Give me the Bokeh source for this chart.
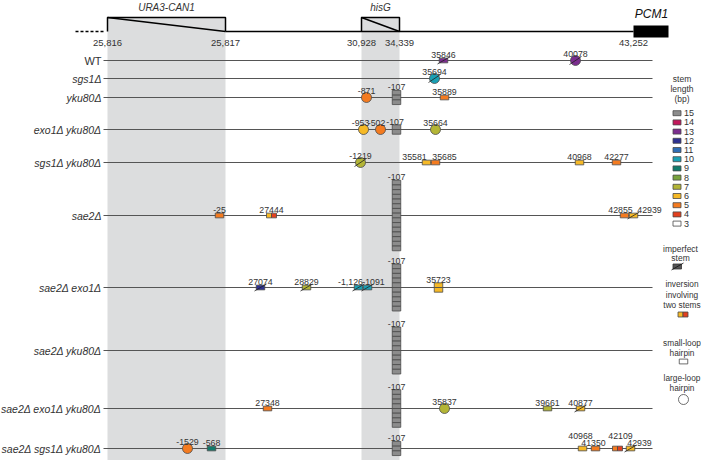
from bokeh.plotting import figure
from bokeh.models import Range1d, ColumnDataSource
from bokeh.core.properties import value
from bokeh.embed import file_html
from bokeh.resources import INLINE

# ---------------- data ----------------
ROWS = ["WT", "sgs1Δ", "yku80Δ", "exo1Δ yku80Δ", "sgs1Δ yku80Δ", "sae2Δ",
        "sae2Δ exo1Δ", "sae2Δ yku80Δ", "sae2Δ exo1Δ yku80Δ", "sae2Δ sgs1Δ yku80Δ"]

# genomic landmarks (schematic position along the locus drawing)
BOUNDARY_LABELS = ["25,816", "25,817", "30,928", "34,339", "43,252"]
BOUNDARY_POS = [107, 225, 361, 399, 633]
GENES = ["URA3-CAN1", "hisG", "PCM1"]

STEM_LENGTHS = [15, 14, 13, 12, 11, 10, 9, 8, 7, 6, 5, 4, 3]
STEM_COLORS = ["#8c8c8c", "#c2185b", "#7b2d8e", "#2e3192", "#2f6db5", "#1aa0b4",
               "#127a6b", "#78a23c", "#b3b536", "#f6b926", "#f47b20", "#e2401f", "#ffffff"]

# events: row index, schematic position, label, stem length, second stem (inversion),
# shape, imperfect stem, number of stacked copies
EV_ROW = [0, 0, 1, 2, 2, 2, 3, 3, 3, 3, 4, 4, 4, 4, 4, 5, 5, 5, 5, 5,
          6, 6, 6, 6, 6, 6, 7, 8, 8, 8, 8, 8, 9, 9, 9, 9, 9, 9, 9]
EV_POS = [443, 575, 434, 366, 396, 444, 363, 380, 396, 435, 360, 426, 435, 579, 616,
          219, 271, 396, 624, 633, 260, 306, 358, 367, 396, 438, 396,
          267, 396, 444, 547, 580, 187, 211, 396, 582, 595, 617, 630]
EV_LABEL = ["35846", "40078", "35694", "-871", "-107", "35889", "-953", "-502", "-107", "35664",
            "-1219", "35581", "35685", "40968", "42277", "-25", "27444", "-107", "42855", "42939",
            "27074", "28829", "-1,126", "-1091", "-107", "35723", "-107",
            "27348", "-107", "35837", "39661", "40877", "-1529", "-568", "-107",
            "40968", "41350", "42109", "42939"]
EV_STEM = [13, 13, 10, 5, 15, 5, 6, 5, 15, 7, 7, 6, 5, 6, 5, 5, 6, 15, 5, 6,
           12, 7, 10, 10, 15, 6, 15, 5, 15, 7, 7, 6, 5, 9, 15, 6, 5, 5, 6]
EV_STEM2 = [None] * 16 + [4] + [None] * 20 + [4] + [None]
EV_SHAPE = ["rect", "circle", "circle", "circle", "rect", "rect", "circle", "circle", "rect", "circle",
            "circle", "rect", "rect", "rect", "rect", "rect", "inv", "rect", "rect", "rect",
            "rect", "rect", "rect", "rect", "rect", "rect", "rect",
            "rect", "rect", "circle", "rect", "rect", "circle", "rect", "rect",
            "rect", "rect", "inv", "rect"]
EV_IMPERFECT = [True, True, True, False, False, False, False, False, False, False,
                True, False, False, False, False, False, False, False, False, True,
                True, True, True, True, False, False, False,
                False, False, False, False, True, False, False, False,
                False, False, False, True]
EV_COUNT = [1, 1, 1, 1, 3, 1, 1, 1, 2, 1, 1, 1, 1, 1, 1, 1, 1, 15, 1, 1,
            1, 1, 1, 1, 10, 2, 10, 1, 8, 1, 1, 1, 1, 1, 3, 1, 1, 1, 1]

# ---------------- layout (positions / styles) ----------------
ROW_Y = [60, 78, 97, 129, 162, 215, 287, 350, 408, 448]
LABEL_DX = {6: -3, 7: -4, 8: -1.5, 11: -12, 12: 9, 18: -4, 19: 16, 22: -8, 23: 6,
            35: -2, 36: -2, 37: 3, 38: 9}
LABEL_LIFT = {35: 7, 37: 7}
CELL_H = 4.7
RECT_W = 8.5
FONT = value("Liberation Sans")
TXT = "#333333"

color_of = dict(zip(STEM_LENGTHS, STEM_COLORS))

p = figure(width=701, height=460, x_range=Range1d(0, 701), y_range=Range1d(460, 0),
           output_backend="svg", toolbar_location=None, min_border=0)
p.axis.visible = False
p.grid.visible = False
p.outline_line_color = None
p.background_fill_color = "white"

# shaded bands under the two inserted cassettes
band_l = [BOUNDARY_POS[0], BOUNDARY_POS[2]]
band_r = [BOUNDARY_POS[1], BOUNDARY_POS[3]]
p.quad(left=band_l, right=band_r, top=[17, 17], bottom=[470, 470],
       fill_color="#dcddde", line_color=None)

# locus drawing
p.line([75, 105], [31, 31], line_color="black", line_width=1.5, line_dash="3 2")
for a, b in [(0, 1), (2, 3)]:
    xa, xb = BOUNDARY_POS[a], BOUNDARY_POS[b]
    p.line([xa, xa, xb, xb], [31, 17, 17, 31], line_color="black", line_width=1.5)
    p.line([xa, xb], [17, 31], line_color="black", line_width=1.5)
p.line([BOUNDARY_POS[1], BOUNDARY_POS[4]], [31, 31], line_color="black", line_width=1.5)
p.quad(left=[BOUNDARY_POS[4]], right=[BOUNDARY_POS[4] + 35], top=[25], bottom=[37],
       fill_color="black", line_color=None)
p.text(x=BOUNDARY_POS, y=[42] * 5, text=BOUNDARY_LABELS, text_align="center",
       text_baseline="middle", text_font=FONT, text_font_size="9.5px", text_color=TXT)
gene_x = [(BOUNDARY_POS[0] + BOUNDARY_POS[1]) / 2, (BOUNDARY_POS[2] + BOUNDARY_POS[3]) / 2,
          BOUNDARY_POS[4] + 18]
p.text(x=gene_x[:2], y=[7, 7], text=GENES[:2], text_align="center", text_baseline="middle",
       text_font=FONT, text_font_style="italic", text_font_size="10px", text_color=TXT)
p.text(x=[gene_x[2]], y=[13], text=[GENES[2]], text_align="center", text_baseline="middle",
       text_font=FONT, text_font_style="italic", text_font_size="12px", text_color="#111")

# strain rows
p.segment(x0=[103] * len(ROWS), y0=ROW_Y, x1=[652] * len(ROWS), y1=ROW_Y,
          line_color="#555555", line_width=1)
p.text(x=[101], y=ROW_Y[:1], text=ROWS[:1], text_align="right", text_baseline="middle",
       text_font=FONT, text_font_size="11px", text_color=TXT)
p.text(x=[101] * (len(ROWS) - 1), y=ROW_Y[1:], text=ROWS[1:], text_align="right",
       text_baseline="middle", text_font=FONT, text_font_size="10.5px", text_color=TXT,
       text_font_style="italic")

# events
cells = dict(left=[], right=[], top=[], bottom=[], color=[])
circ = dict(x=[], y=[], color=[])
slash = dict(x0=[], y0=[], x1=[], y1=[])
lab = dict(x=[], y=[], text=[])
for i in range(len(EV_ROW)):
    y = ROW_Y[EV_ROW[i]]
    x = EV_POS[i]
    n = EV_COUNT[i]
    if EV_SHAPE[i] == "circle":
        circ["x"].append(x); circ["y"].append(y); circ["color"].append(color_of[EV_STEM[i]])
        top = y - 3.5
        if EV_IMPERFECT[i]:
            slash["x0"].append(x - 6); slash["y0"].append(y + 4)
            slash["x1"].append(x + 6); slash["y1"].append(y - 4)
    elif EV_SHAPE[i] == "inv":
        for k, s in enumerate([EV_STEM[i], EV_STEM2[i]]):
            cells["left"].append(x - 5 + 5 * k); cells["right"].append(x + 5 * k)
            cells["top"].append(y - CELL_H / 2); cells["bottom"].append(y + CELL_H / 2)
            cells["color"].append(color_of[s])
        top = y - CELL_H / 2
    else:
        h = CELL_H
        y0 = y - n * h / 2
        for k in range(n):
            cells["left"].append(x - RECT_W / 2); cells["right"].append(x + RECT_W / 2)
            cells["top"].append(y0 + k * h); cells["bottom"].append(y0 + (k + 1) * h)
            cells["color"].append(color_of[EV_STEM[i]])
        top = y0
        if EV_IMPERFECT[i]:
            slash["x0"].append(x - 6); slash["y0"].append(y + 3.5)
            slash["x1"].append(x + 6); slash["y1"].append(y - 3.5)
    lab["x"].append(x + LABEL_DX.get(i, 0))
    lab["y"].append(top - 3 - LABEL_LIFT.get(i, 0))
    lab["text"].append(EV_LABEL[i])

p.quad(left="left", right="right", top="top", bottom="bottom", fill_color="color",
       line_color="#4a4a4a", line_width=0.8, source=ColumnDataSource(cells))
p.scatter(x="x", y="y", marker="circle", size=10, fill_color="color",
          line_color="#4a4a4a", line_width=0.8, source=ColumnDataSource(circ))
p.segment(x0="x0", y0="y0", x1="x1", y1="y1", line_color="#222222", line_width=0.8,
          source=ColumnDataSource(slash))
p.text(x="x", y="y", text="text", text_align="center", text_baseline="alphabetic",
       text_font=FONT, text_font_size="8.8px", text_color=TXT, source=ColumnDataSource(lab))

# legend
LX = 681.5
p.text(x=[LX] * 3, y=[78, 88, 98], text=["stem", "length", "(bp)"], text_align="center",
       text_baseline="middle", text_font=FONT, text_font_size="8.5px", text_color=TXT)
ly = [112.7 + 9.2 * k for k in range(len(STEM_LENGTHS))]
p.quad(left=[672.5] * len(ly), right=[680.5] * len(ly), top=[v - 2.5 for v in ly],
       bottom=[v + 2.5 for v in ly], fill_color=STEM_COLORS, line_color="#4a4a4a", line_width=0.8)
p.text(x=[683.5] * len(ly), y=ly, text=[str(s) for s in STEM_LENGTHS], text_align="left",
       text_baseline="middle", text_font=FONT, text_font_size="9px", text_color=TXT)
p.text(x=[LX - 1.5] * 2, y=[248, 257], text=["imperfect", "stem"], text_align="center",
       text_baseline="middle", text_font=FONT, text_font_size="8.5px", text_color=TXT)
p.quad(left=[672.5], right=[681], top=[263.5], bottom=[268.5], fill_color="#555555",
       line_color="#333333", line_width=0.8)
p.segment(x0=[671], y0=[269.5], x1=[683], y1=[262.5], line_color="#111111", line_width=0.8)
p.text(x=[LX] * 3, y=[283, 294, 304], text=["inversion", "involving", "two stems"],
       text_align="center", text_baseline="middle", text_font=FONT, text_font_size="8.3px",
       text_color=TXT)
p.quad(left=[677.5, 682.5], right=[682.5, 687.5], top=[311.5, 311.5], bottom=[316.5, 316.5],
       fill_color=[color_of[6], color_of[4]], line_color="#4a4a4a", line_width=0.8)
p.text(x=[LX] * 2, y=[342, 352], text=["small-loop", "hairpin"], text_align="center",
       text_baseline="middle", text_font=FONT, text_font_size="8.3px", text_color=TXT)
p.quad(left=[683 - 4.25], right=[683 + 4.25], top=[358.6], bottom=[363.4], fill_color="white",
       line_color="#4a4a4a", line_width=0.8)
p.text(x=[LX] * 2, y=[377, 387], text=["large-loop", "hairpin"], text_align="center",
       text_baseline="middle", text_font=FONT, text_font_size="8.3px", text_color=TXT)
p.scatter(x=[683], y=[399], marker="circle", size=10, fill_color="white",
          line_color="#4a4a4a", line_width=0.8)

open("out.html", "w").write(file_html(p, INLINE))
